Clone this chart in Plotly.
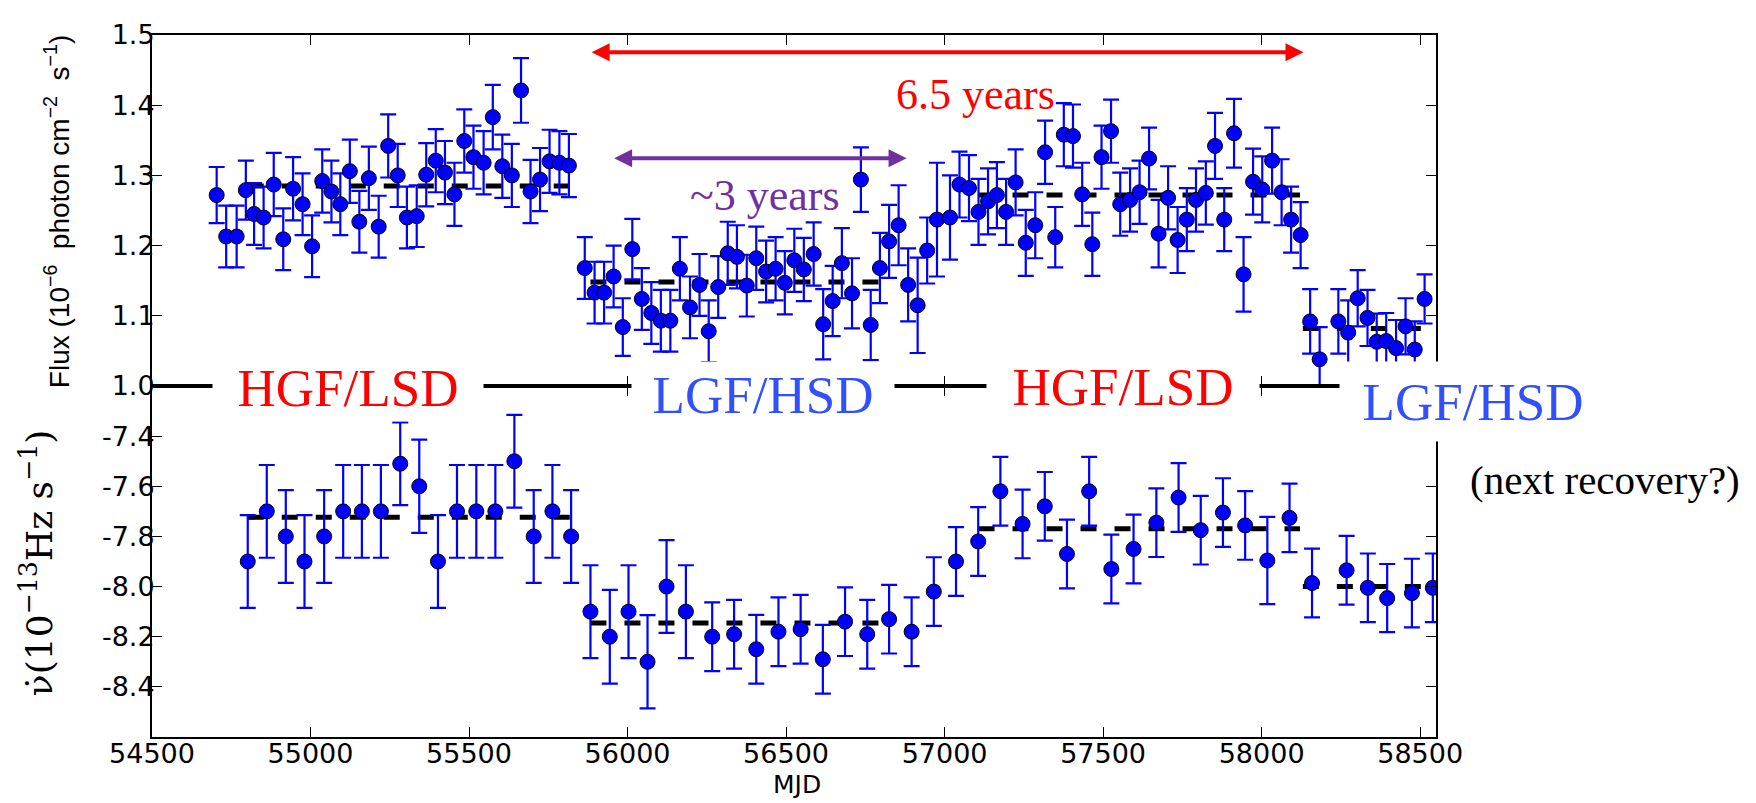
import plotly.graph_objects as go
from plotly.subplots import make_subplots

# ---------------- data ----------------
flux_mjd = [54704, 54734, 54767, 54796, 54822, 54852, 54884, 54914, 54945, 54975,
            55005, 55037, 55066, 55094, 55124, 55154, 55184, 55215, 55245, 55275,
            55304, 55335, 55365, 55395, 55424, 55454, 55485, 55514, 55546, 55575,
            55605, 55635, 55664, 55694, 55724, 55754, 55785, 55815, 55865, 55896,
            55926, 55956, 55985, 56015, 56045, 56075, 56105, 56135, 56165, 56197,
            56227, 56256, 56286, 56316, 56345, 56376, 56406, 56437, 56467, 56496,
            56526, 56556, 56587, 56617, 56647, 56676, 56708, 56736, 56767, 56796,
            56825, 56855, 56885, 56915, 56945, 56976, 57017, 57047, 57077, 57107,
            57137, 57165, 57194, 57224, 57256, 57286, 57317, 57349, 57376, 57405,
            57434, 57466, 57495, 57525, 57554, 57585, 57615, 57645, 57675, 57705,
            57735, 57764, 57793, 57824, 57853, 57882, 57913, 57943, 57973, 58002,
            58033, 58063, 58093, 58123, 58153, 58183, 58242, 58273, 58303, 58334,
            58363, 58393, 58424, 58454, 58483, 58514]
flux = [1.272, 1.213, 1.213, 1.279, 1.245, 1.240, 1.287, 1.209, 1.281, 1.259,
        1.199, 1.292, 1.277, 1.259, 1.306, 1.234, 1.296, 1.227, 1.342, 1.300,
        1.240, 1.242, 1.301, 1.321, 1.304, 1.273, 1.349, 1.326, 1.318, 1.383,
        1.313, 1.300, 1.421, 1.277, 1.294, 1.320, 1.318, 1.314, 1.168, 1.133,
        1.133, 1.156, 1.084, 1.195, 1.124, 1.104, 1.093, 1.093, 1.167, 1.112,
        1.144, 1.078, 1.141, 1.189, 1.184, 1.143, 1.182, 1.163, 1.167, 1.147,
        1.179, 1.166, 1.188, 1.088, 1.121, 1.175, 1.132, 1.294, 1.087, 1.168,
        1.206, 1.229, 1.144, 1.115, 1.193, 1.237, 1.240, 1.287, 1.282, 1.248,
        1.263, 1.272, 1.248, 1.290, 1.204, 1.229, 1.333, 1.212, 1.358, 1.356,
        1.273, 1.202, 1.326, 1.363, 1.259, 1.265, 1.276, 1.324, 1.217, 1.268,
        1.208, 1.237, 1.265, 1.275, 1.342, 1.237, 1.360, 1.159, 1.291, 1.280,
        1.321, 1.276, 1.237, 1.215, 1.092, 1.038, 1.092, 1.076, 1.125, 1.097,
        1.063, 1.064, 1.054, 1.085, 1.052, 1.124]
flux_err = [0.040, 0.044, 0.044, 0.042, 0.044, 0.044, 0.045, 0.044, 0.045, 0.044,
            0.044, 0.045, 0.044, 0.044, 0.045, 0.044, 0.045, 0.044, 0.045, 0.045,
            0.044, 0.044, 0.045, 0.045, 0.045, 0.045, 0.045, 0.045, 0.045, 0.046,
            0.045, 0.045, 0.046, 0.045, 0.045, 0.045, 0.045, 0.045, 0.044, 0.044,
            0.044, 0.044, 0.041, 0.043, 0.044, 0.044, 0.044, 0.044, 0.045, 0.044,
            0.044, 0.044, 0.044, 0.045, 0.045, 0.044, 0.045, 0.044, 0.045, 0.045,
            0.045, 0.045, 0.045, 0.050, 0.050, 0.050, 0.050, 0.046, 0.050, 0.050,
            0.052, 0.057, 0.052, 0.068, 0.047, 0.081, 0.060, 0.047, 0.047, 0.047,
            0.047, 0.047, 0.047, 0.047, 0.047, 0.047, 0.045, 0.043, 0.045, 0.045,
            0.045, 0.045, 0.045, 0.045, 0.045, 0.045, 0.045, 0.044, 0.048, 0.045,
            0.047, 0.045, 0.045, 0.045, 0.047, 0.045, 0.049, 0.053, 0.047, 0.047,
            0.047, 0.047, 0.047, 0.047, 0.046, 0.046, 0.046, 0.046, 0.040, 0.040,
            0.040, 0.040, 0.040, 0.040, 0.040, 0.035]

nudot_mjd = [54802, 54862, 54922, 54981, 55043, 55103, 55162, 55222, 55283, 55343,
             55402, 55462, 55523, 55583, 55643, 55704, 55763, 55822, 55883, 55944,
             56003, 56063, 56123, 56184, 56267, 56336, 56406, 56476, 56546, 56616,
             56686, 56756, 56825, 56896, 56966, 57036, 57106, 57176, 57246, 57316,
             57386, 57456, 57526, 57596, 57668, 57738, 57808, 57878, 57948, 58018,
             58088, 58159, 58268, 58335, 58396, 58474, 58540]
nudot = [-7.90, -7.70, -7.80, -7.90, -7.80, -7.70, -7.70, -7.70, -7.51, -7.60,
         -7.90, -7.70, -7.70, -7.70, -7.50, -7.80, -7.70, -7.80, -8.10, -8.20,
         -8.10, -8.30, -8.00, -8.10, -8.20, -8.19, -8.25, -8.18, -8.17, -8.29,
         -8.14, -8.19, -8.13, -8.18, -8.02, -7.90, -7.82, -7.62, -7.75, -7.68,
         -7.87, -7.62, -7.93, -7.85, -7.745, -7.645, -7.775, -7.705, -7.756, -7.896,
         -7.726, -7.986, -7.935, -8.005, -8.046, -8.026, -8.005]
nudot_err = [0.185, 0.185, 0.185, 0.185, 0.185, 0.185, 0.185, 0.185, 0.165, 0.186,
             0.185, 0.185, 0.185, 0.185, 0.185, 0.185, 0.185, 0.185, 0.185, 0.187,
             0.185, 0.186, 0.185, 0.185, 0.137, 0.137, 0.137, 0.137, 0.137, 0.137,
             0.137, 0.137, 0.137, 0.137, 0.137, 0.137, 0.137, 0.137, 0.137, 0.137,
             0.137, 0.137, 0.137, 0.137, 0.137, 0.137, 0.137, 0.137, 0.137, 0.174,
             0.137, 0.137, 0.137, 0.137, 0.136, 0.137, 0.137]

state_start = [54802, 55883, 57107, 58130]
state_end = [55822, 56805, 58121, 58550]
flux_mean = [1.285, 1.148, 1.272, 1.082]
nudot_mean = [-7.724, -8.145, -7.769, -8.000]

state_names = ["HGF/LSD", "LGF/HSD", "HGF/LSD", "LGF/HSD"]
state_colors = ["#ff0000", "#3050ff", "#ff0000", "#3050ff"]

x_ticks = [54500, 55000, 55500, 56000, 56500, 57000, 57500, 58000, 58500]
x_tick_text = ["54500", "55000", "55500", "56000", "56500", "57000", "57500", "58000", "58500"]
flux_ticks = [1.0, 1.1, 1.2, 1.3, 1.4, 1.5]
nudot_ticks = [-8.4, -8.2, -8.0, -7.8, -7.6, -7.4]
nudot_tick_text = ["-8.4", "-8.2", "-8.0", "-7.8", "-7.6", "-7.4"]

# arrows (MJD start, MJD end, flux level)
long_arrow = [55882, 58132, 1.4755]
short_arrow = [55953, 56880, 1.3246]

# ---------------- figure ----------------
fig = make_subplots(rows=2, cols=1, shared_xaxes=True, vertical_spacing=0)

for s, e, fm, nm in zip(state_start, state_end, flux_mean, nudot_mean):
    fig.add_trace(go.Scatter(x=[s, e], y=[fm, fm], mode="lines",
                             line=dict(color="black", width=5, dash="16px,18px"),
                             hoverinfo="skip"), row=1, col=1)
    fig.add_trace(go.Scatter(x=[s, e], y=[nm, nm], mode="lines",
                             line=dict(color="black", width=5, dash="16px,18px"),
                             hoverinfo="skip"), row=2, col=1)

marker_style = dict(color="#0000ff", size=15, line=dict(color="black", width=1))
fig.add_trace(go.Scatter(x=flux_mjd, y=flux, mode="markers", marker=marker_style,
                         error_y=dict(type="data", array=flux_err, color="#0000ff",
                                      thickness=2.2, width=8)), row=1, col=1)
fig.add_trace(go.Scatter(x=nudot_mjd, y=nudot, mode="markers", marker=marker_style,
                         error_y=dict(type="data", array=nudot_err, color="#0000ff",
                                      thickness=2.2, width=8)), row=2, col=1)

axis_common = dict(showline=True, linecolor="black", linewidth=2, mirror="ticks",
                   ticks="inside", ticklen=10, tickcolor="black", tickwidth=1,
                   showgrid=False, zeroline=False, ticklabeloverflow="allow",
                   tickfont=dict(family="DejaVu Sans", size=27, color="black"))

fig.update_xaxes(range=[54500, 58550], tickvals=x_ticks, ticktext=x_tick_text,
                 ticklabelstandoff=-8, **axis_common)
fig.update_xaxes(showticklabels=False, row=1, col=1)
fig.update_yaxes(range=[1.0, 1.5], tickvals=flux_ticks, tickformat=".1f",
                 ticklabelstandoff=-10, row=1, col=1, **axis_common)
fig.update_yaxes(range=[-8.6, -7.2], tickvals=nudot_ticks, ticktext=nudot_tick_text,
                 ticklabelstandoff=-10, row=2, col=1, **axis_common)

ann = []
# state labels with white boxes covering the boundary line
label_x = [0.1527, 0.4759, 0.7563, 1.0290]
label_y = [0.497, 0.487, 0.498, 0.478]
label_w = [270, 262, 272, 266]
label_h = [66, 66, 66, 79]
for t, c, lx, ly, w, h in zip(state_names, state_colors, label_x, label_y, label_w, label_h):
    ann.append(dict(text=t, x=lx, y=ly, xref="paper", yref="paper", showarrow=False,
                    xanchor="center", yanchor="middle", width=w, height=h,
                    bgcolor="white", borderpad=0,
                    font=dict(family="Liberation Serif", size=53, color=c)))

ann.append(dict(text="(next recovery?)", x=1.132, y=0.366, xref="paper", yref="paper",
                showarrow=False, xanchor="center", yanchor="middle",
                font=dict(family="Liberation Serif", size=41, color="black")))
ann.append(dict(text="6.5 years", x=0.641, y=0.915, xref="paper", yref="paper",
                showarrow=False, xanchor="center", yanchor="middle",
                font=dict(family="Liberation Serif", size=44, color="#ff0000")))
ann.append(dict(text="~3 years", x=0.4774, y=0.7715, xref="paper", yref="paper",
                showarrow=False, xanchor="center", yanchor="middle",
                font=dict(family="Liberation Serif", size=44, color="#7030a0")))

# double-headed arrows
for (a0, a1, lvl), col in [(long_arrow, "#ff0000"), (short_arrow, "#7030a0")]:
    ann.append(dict(text="", x=a1, y=lvl, ax=a0, ay=lvl, xref="x", yref="y",
                    axref="x", ayref="y", showarrow=True, arrowside="end+start",
                    arrowhead=2, startarrowhead=2, arrowsize=0.9, startarrowsize=0.9,
                    arrowwidth=4, arrowcolor=col, standoff=0, startstandoff=0))

# axis titles
ann.append(dict(text="Flux (10<sup>−6</sup>  photon cm<sup>−2</sup>  s<sup>−1</sup>)",
                x=-0.074, y=0.749, xref="paper", yref="paper", showarrow=False,
                textangle=-90, xanchor="center", yanchor="middle",
                font=dict(family="Liberation Sans Narrow, Liberation Sans", size=28, color="black")))
ann.append(dict(text="ν̇(10<sup>−13</sup>Hz s<sup>−1</sup>)",
                x=-0.0896, y=0.2476, xref="paper", yref="paper", showarrow=False,
                textangle=-90, xanchor="center", yanchor="middle",
                font=dict(family="DejaVu Serif", size=36, color="black")))
ann.append(dict(text="MJD", x=0.502, y=-0.068, xref="paper", yref="paper", showarrow=False,
                xanchor="center", yanchor="middle",
                font=dict(family="DejaVu Sans", size=25, color="black")))

# the page adds an 8 px body margin, so the figure is 8 px smaller and shifted back
fig.update_layout(width=1748, height=795, showlegend=False,
                  margin=dict(l=144, r=320, t=11, b=66),
                  plot_bgcolor="white", paper_bgcolor="white",
                  annotations=ann)

fig.write_html("out.html")
